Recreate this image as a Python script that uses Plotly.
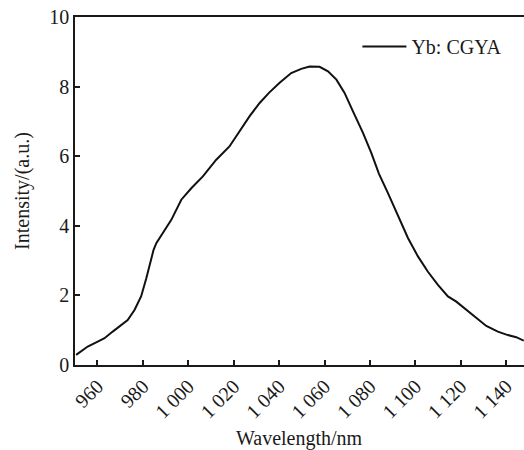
import plotly.graph_objects as go

# Emission spectrum of Yb: CGYA
wavelength = [950.6, 955.7, 960.1, 963.1, 966.7, 969.7, 973.3, 976.3, 979.2, 981.5,
              983.2, 984.7, 985.9, 988.8, 992.5, 996.9, 1001.3, 1006.4, 1012.3, 1018.1,
              1022.6, 1027.0, 1031.4, 1035.5, 1040.2, 1045.3, 1049.7, 1053.4, 1057.8,
              1061.5, 1065.2, 1068.8, 1072.5, 1076.9, 1080.6, 1083.9, 1087.9, 1092.3,
              1096.7, 1101.1, 1105.5, 1109.9, 1114.3, 1118.0, 1122.4, 1126.8, 1131.2,
              1136.3, 1140.7, 1144.4, 1147.7]
intensity = [0.29, 0.53, 0.67, 0.77, 0.96, 1.10, 1.29, 1.58, 1.97, 2.49,
             2.97, 3.31, 3.50, 3.79, 4.17, 4.75, 5.08, 5.42, 5.90, 6.28,
             6.71, 7.15, 7.53, 7.82, 8.11, 8.39, 8.51, 8.58, 8.57,
             8.44, 8.20, 7.82, 7.29, 6.67, 6.09, 5.50, 4.94, 4.27,
             3.65, 3.12, 2.68, 2.30, 1.97, 1.82, 1.58, 1.34, 1.12,
             0.96, 0.86, 0.80, 0.70]

x_ticks = [960, 980, 1000, 1020, 1040, 1060, 1080, 1100, 1120, 1140]
x_tick_text = ["960", "980", "1 000", "1 020", "1 040", "1 060", "1 080", "1 100", "1 120", "1 140"]
y_ticks = [0, 2, 4, 6, 8, 10]

FONT = "Liberation Serif, Times New Roman, serif"
INK = "#1a1a1a"

fig = go.Figure()
fig.add_trace(go.Scatter(
    x=wavelength, y=intensity, mode="lines", name="Yb: CGYA",
    line=dict(color="#111111", width=2),
))

fig.update_layout(
    width=524, height=450,
    margin=dict(l=75, r=0, t=17, b=85),
    paper_bgcolor="white", plot_bgcolor="white",
    font=dict(family=FONT, size=20, color=INK),
    showlegend=True,
    legend=dict(
        x=0.629, y=0.915, xanchor="left", yanchor="middle",
        itemwidth=44,
        bgcolor="rgba(0,0,0,0)", borderwidth=0,
        font=dict(family=FONT, size=20, color=INK),
    ),
)

fig.update_xaxes(
    range=[950.1, 1147.8],
    tickvals=x_ticks, ticktext=x_tick_text, tickangle=-45,
    ticks="inside", ticklen=5, tickwidth=1.5, tickcolor=INK,
    tickfont=dict(family=FONT, size=20, color=INK),
    showline=True, linecolor=INK, linewidth=1.5, mirror=True,
    showgrid=False, zeroline=False, automargin=False,
)
fig.update_yaxes(
    range=[0, 10],
    tickvals=y_ticks,
    ticks="inside", ticklen=5, tickwidth=1.5, tickcolor=INK,
    tickfont=dict(family=FONT, size=20, color=INK),
    showline=True, linecolor=INK, linewidth=1.5,
    showgrid=False, zeroline=False, automargin=False,
    title=dict(text="Intensity/(a.u.)", font=dict(family=FONT, size=20, color=INK), standoff=14),
)

# x-axis title, set below the slanted tick labels
fig.add_annotation(
    text="Wavelength/nm", xref="paper", yref="paper",
    x=0.5, y=-0.21, xanchor="center", yanchor="middle",
    showarrow=False, font=dict(family=FONT, size=20, color=INK),
)

fig.write_html("out.html")
